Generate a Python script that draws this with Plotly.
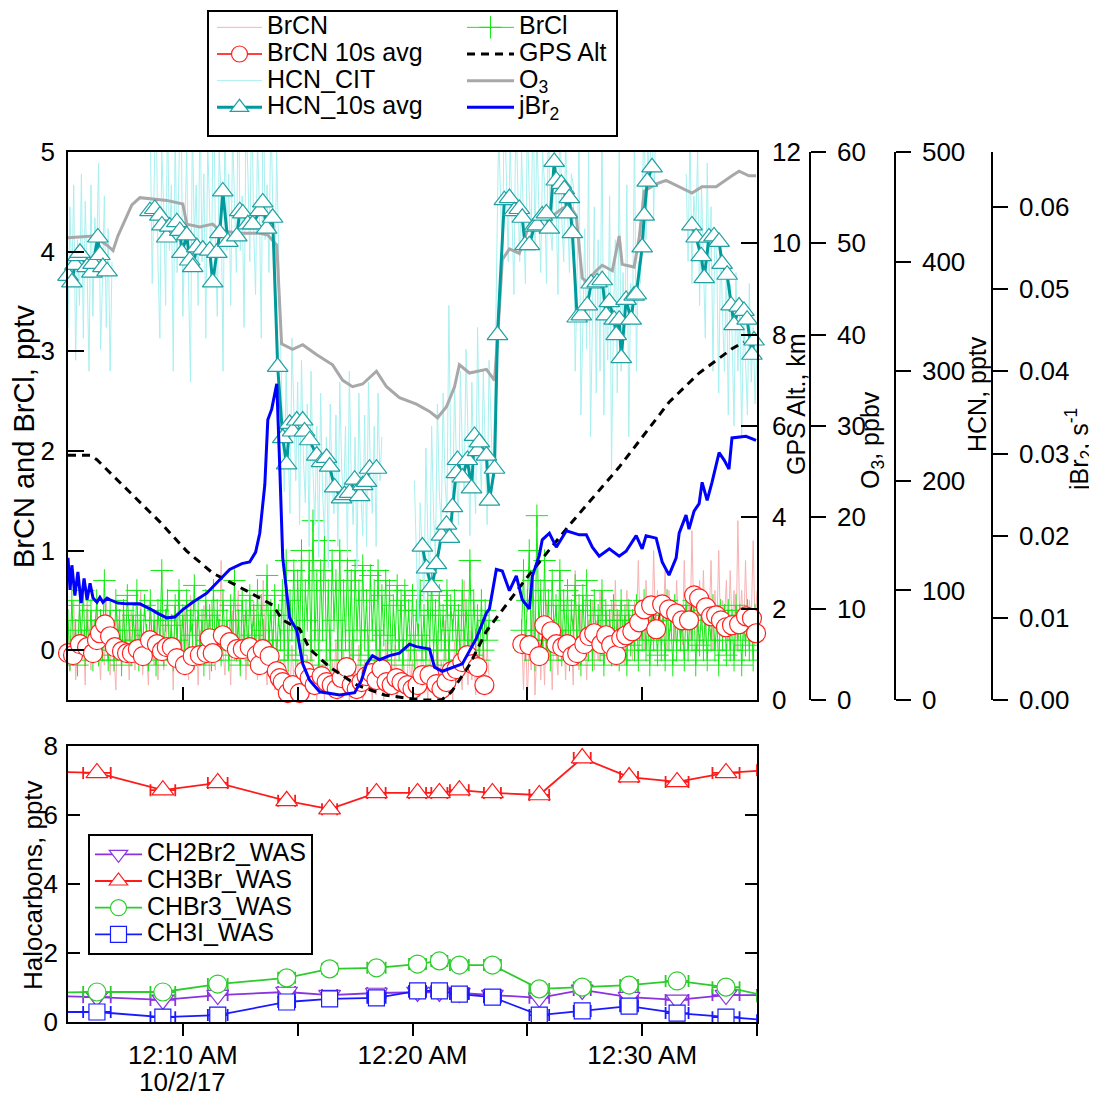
import numpy as np
import plotly.graph_objects as go

W, H = 1097, 1095
FONT = "Liberation Sans, Arial, Helvetica, sans-serif"

# ---------------- data (time in minutes after 00:00, 10/2/17) ----------------
# 5-s sampled high-rate series
sample_times = np.linspace(5.0, 35.0, 361)

hcn_cit = ([340, 450, 380, 470, 310, 420, 360, 480, 330, 455, 390, 300, 470, 350, 440, 410, 490,
            320, 380, 460, 340, 430, 300, 400]
           + [None] * 19
           + [520, 380, 470, 560, 400, 330, 500, 450, 360, 540, 410, 470, 300, 520, 390, 460, 580,
              350, 440, 500, 380, 290, 530, 420,
              470, 360, 560, 400, 480, 330, 510, 440, 380, 590, 420, 350, 500, 460, 300, 540, 410,
              480, 360, 520, 440, 390, 570, 410,
              460, 340, 530, 480, 400, 560, 430, 370, 510, 450, 330, 580, 420, 470, 390, 540, 450,
              360, 500, 410]
           + [320, 250, 190, 300, 230, 170, 330, 260, 200, 290, 160, 310, 220, 180, 270, 140, 300,
              210, 160, 250, 130, 280, 190, 150,
              240, 120, 270, 200, 170, 260, 140, 290, 210, 180, 250, 130, 300, 200, 160, 240, 120,
              280, 190, 150, 260, 140, 290, 210,
              170, 250, 140, 280, 200, 240]
           + [None] * 16
           + [200, 120, 70, 180, 140, 90, 230, 150, 110, 250, 170, 130, 270, 190, 160, 280, 200,
              170, 360, 220, 180, 290, 210, 160,
              300, 230, 190, 320, 240, 150, 290, 210, 170, 340, 230, 190, 300, 220, 160, 310, 250,
              200, 280]
           + [420, 520, 460, 390, 560, 480, 400, 510, 440, 370, 540, 470, 400, 500, 430, 380, 530,
              460, 420, 560, 410, 520, 450, 390,
              500, 470, 380, 540, 430, 410, 520, 460, 370, 550, 440, 400, 510, 450, 390, 480,
              470, 300, 380, 520, 260, 340, 430, 320, 500, 240, 360, 450, 280, 420, 300, 540, 260,
              380, 310, 460, 210, 350, 420, 280,
              500, 300, 390, 330, 470, 240, 380, 350, 520, 300, 400, 380,
              450, 540, 420, 500, 470, 560, 440, 520]
           + [None] * 15
           + [480, 400, 520, 380, 460, 430, 500, 360, 470, 410, 330, 490, 380, 450, 300, 430, 400,
              280, 420, 350, 300, 400, 260, 380,
              330, 250, 390, 300, 360, 240, 350, 310, 260, 380, 290, 340, 270, 330])

brcn = ([0.3, -0.2, 0.1, 0.5, -0.3, 0.0, 0.4, -0.1, 0.2, -0.35, 0.6, 0.0,
         -0.2, 0.3, -0.1, 0.45, 0.0, -0.3, 0.25, -0.15, 0.5, 0.1, -0.25, 0.3,
         0.0, -0.4, 0.35, 0.1, -0.2, 0.5, -0.1, 0.2, -0.3, 0.4, 0.05, -0.2,
         0.3, -0.1, 0.6, -0.25, 0.15, 0.0, -0.35, 0.4, 0.1, -0.15, 0.3, -0.3,
         0.2, 0.5, -0.2, 0.0, 0.35, -0.1, 0.25, -0.4, 0.45, 0.1, -0.2, 0.3,
         -0.1, 0.4, 0.0, -0.3, 0.55, 0.1, -0.2, 0.3, -0.35, 0.2, 0.0, 0.45,
         -0.15, 0.3, -0.3, 0.5, 0.05, -0.2, 0.35, -0.1, 0.9, 0.0, -0.25, 0.3,
         0.1, -0.35, 0.4, -0.1, 0.2, 0.6, -0.2, 0.0, 0.35, -0.3, 0.25, 0.05,
         -0.2, 0.5, 0.1, -0.3, 0.3, -0.1, 0.7, 0.0, -0.35, 0.25, -0.15, 0.2,
         -0.4, 0.1, -0.45, -0.1, -0.5, 0.0, -0.35, -0.2, -0.45, 0.05, -0.3, -0.5,
         -0.1, -0.4, 0.1, -0.3, -0.5, -0.05, -0.45, 0.15, -0.35, -0.2, -0.5, 0.0,
         -0.4, -0.15, -0.5, 0.05, -0.3, -0.45, -0.1, -0.35, 0.1, -0.5, -0.2, -0.4,
         0.0, -0.45, -0.25, -0.5, 0.1, -0.35, -0.15, -0.45, 0.05, -0.3, -0.5, -0.1,
         -0.4, 0.15, -0.3, -0.5, -0.05, -0.45, 0.0, -0.35, -0.2, -0.5, 0.1, -0.3,
         -0.45, -0.1, -0.35, 0.05, -0.5, -0.2, -0.4, 0.0, -0.3, -0.45, 0.1, -0.35,
         -0.1, -0.5, 0.0, -0.3, -0.45, 0.15, -0.35, -0.2, -0.5, 0.05, -0.4, -0.1,
         -0.35, 0.2, -0.45, -0.1, -0.3, 0.3, -0.4, 0.0, -0.25, -0.5, 0.1, -0.3,
         0.4, -0.2, -0.4, 0.7, -0.1, -0.35, 0.2, -0.3, 0.0, -0.45, 0.3, -0.2,
         -0.35, 0.1, -0.3, 0.0, -0.25]
        + [None] * 16
        + [0.2, -0.4, 0.3, -0.5, 0.1, -0.2, 0.4, -0.45, 0.0, 0.3, -0.3, 0.2,
           -0.35, 0.5, -0.1, 0.2, -0.4, 0.3, 0.0, -0.25, 0.45, -0.1, 0.2, -0.3,
           0.35, -0.15, 0.1, -0.35, 0.8, 0.0, -0.2, 0.4, -0.1, 0.25, -0.3, 0.3,
           0.0, 0.5, -0.2, 0.3, -0.1, 0.6, 0.05, -0.15, 0.4, 0.1, -0.05, 0.5,
           0.1, 0.7, -0.1, 0.4, 0.0, 0.3, -0.15, 0.6, 0.1, 0.2, -0.1, 0.5,
           0.2, 0.9, 0.1, 0.5, 0.0, 0.7, 0.2, 0.4, 0.05, 1.0, 0.2, 0.6,
           0.1, 0.5, 0.3, 0.8, 0.0, 0.6, 0.2, 0.45, 0.1, 0.7, 0.25, 0.4,
           0.05, 0.9, 0.2, 0.6, 0.1, 1.2, 0.3, 0.5, 0.0, 0.7, 0.2, 0.8,
           0.1, 0.5, 0.3, 0.9, 0.0, 0.6, 0.2, 1.0, 0.15, 0.5, 0.3, 0.7,
           0.1, 0.8, 0.2, 0.6, 0.0, 1.3, 0.25, 0.6, 0.1, 0.9, 0.2, 0.5,
           0.3, 1.1, 0.2, 0.6])

brcl = ([0.3, -0.1, 0.5, 0.0, 0.2, -0.15, 0.45, 0.1, 0.6, -0.05, 0.3, 0.0,
         0.4, -0.1, 0.2, 0.5, -0.05, 0.3, 0.0, 0.7, 0.1, -0.1, 0.4, 0.2,
         -0.1, 0.5, 0.1, 0.3, -0.15, 0.4, 0.0, 0.55, 0.2, -0.05, 0.35, 0.1,
         0.6, -0.1, 0.3, 0.0, 0.45, 0.15, -0.1, 0.5, 0.05, 0.3, -0.15, 0.4,
         0.1, 0.8, -0.05, 0.3, 0.5, 0.0, 0.25, -0.1, 0.45, 0.1, 0.6, -0.05,
         0.35, 0.0, 0.5, -0.1, 0.3, 0.15, 0.65, -0.05, 0.4, 0.0, 0.3, -0.15,
         0.5, 0.1, 0.35, -0.1, 0.6, 0.0, 0.4, 0.2, -0.05, 0.5, 0.1, 0.3,
         -0.1, 0.45, 0.05, 0.7, 0.0, 0.3, -0.15, 0.5, 0.1, 0.4, -0.05, 0.55,
         0.15, 0.35, -0.1, 0.6, 0.0, 0.45, 0.2, -0.05, 0.75, 0.1, 0.4, 0.0,
         0.55, -0.1, 0.35, 0.1, 0.6, 0.0, 0.9, -0.1, 0.5, 0.2, 0.8, -0.05,
         0.7, 0.1, 1.0, -0.1, 0.6, 0.3, 0.9, 0.0, 1.3, 0.1, 0.7, -0.15,
         0.8, 0.2, 1.1, 0.0, 0.6, -0.1, 0.9, 0.3, 0.7, 0.0, 1.0, -0.1,
         0.6, 0.1, 0.9, 0.0, 0.7, -0.15, 0.8, 0.2, 0.6, -0.05, 0.85, 0.1,
         0.5, -0.1, 0.75, 0.2, 0.6, 0.0, 0.8, -0.1, 0.55, 0.15, 0.7, 0.0,
         0.6, -0.1, 0.45, 0.1, 0.65, 0.0, 0.5, -0.15, 0.6, 0.1, 0.4, 0.0,
         0.55, -0.1, 0.4, 0.15, 0.6, 0.0, 0.35, -0.1, 0.5, 0.1, 0.7, 0.0,
         0.4, -0.15, 0.55, 0.1, 0.35, 0.0, 0.6, -0.1, 0.45, 0.2, 0.5, 0.0,
         0.35, -0.1, 0.6, 0.1, 0.4, 0.0, 0.9, -0.05, 0.5, 0.1, 0.35, -0.1,
         0.5, 0.0, 0.4, 0.1, 0.3]
        + [None] * 16
        + [0.2, 0.8, 0.0, 0.5, 1.0, 0.1, 0.7, -0.1, 1.35, 0.2, 0.6, 0.0,
           0.9, 0.1, 0.5, -0.1, 0.7, 0.2, 0.45, 0.0, 0.8, -0.05, 0.5, 0.1,
           0.6, -0.1, 0.4, 0.2, 0.65, 0.0, 0.45, -0.15, 0.55, 0.1, 0.7, 0.0,
           0.4, -0.1, 0.5, 0.1, 0.35, 0.0, 0.6, -0.15, 0.4, 0.1, 0.3, -0.05,
           0.45, 0.0, 0.3, -0.1, 0.5, 0.1, 0.35, -0.15, 0.4, 0.05, 0.3, 0.0,
           0.45, -0.1, 0.3, 0.1, 0.5, 0.0, 0.35, -0.15, 0.4, 0.1, 0.3, -0.05,
           0.4, 0.0, 0.35, -0.1, 0.5, 0.1, 0.3, -0.15, 0.45, 0.0, 0.35, 0.1,
           0.3, -0.1, 0.45, 0.0, 0.35, 0.1, 0.5, -0.15, 0.3, 0.05, 0.4, 0.0,
           0.35, -0.1, 0.3, 0.1, 0.45, 0.0, 0.3, -0.15, 0.4, 0.1, 0.35, -0.05,
           0.4, 0.0, 0.3, -0.1, 0.45, 0.1, 0.35, -0.15, 0.3, 0.05, 0.4, 0.0,
           0.3, -0.1, 0.35, 0.2])

brcn_avg_t = [5.0, 5.22, 5.52, 5.83, 6.09, 6.26, 6.39, 6.61, 6.83, 7.04, 7.35, 7.57, 7.78, 8.04,
              8.26, 8.57, 8.87, 9.09, 9.30, 9.52, 9.74, 10.09, 10.43, 10.74, 11.04, 11.17, 11.30,
              11.74, 12.04, 12.35, 12.61, 12.91, 13.22, 13.35, 13.48, 13.78, 14.09, 14.22, 14.35,
              14.57, 14.78, 15.09, 15.30, 15.52, 15.74, 16.04, 16.26, 16.48, 16.70, 16.91, 17.13,
              17.35, 17.57, 17.78, 18.00, 18.22, 18.43, 18.65, 18.87, 19.09, 19.30, 19.52, 19.78,
              20.00, 20.22, 20.43, 20.74, 21.04, 21.26, 21.48, 21.70, 21.91, 22.17, 22.39, 22.61,
              22.83, 23.13,
              23.95,
              24.78, 25.09, 25.52, 25.74, 26.04, 26.26, 26.52, 26.74, 26.96, 27.17, 27.48, 27.70,
              27.91, 28.22, 28.43, 28.65, 28.87, 29.09, 29.30, 29.57, 29.87, 30.09, 30.39, 30.61,
              30.87, 31.17, 31.48, 31.74, 32.04, 32.26, 32.48, 32.78, 33.00, 33.22, 33.43, 33.65,
              33.91, 34.22, 34.52, 34.78, 34.96]
brcn_avg = [-0.03, -0.05, 0.06, 0.03, -0.03, 0.10, 0.17, 0.26, 0.14, 0.03, -0.01, -0.03, -0.03, 0.01,
            -0.06, 0.10, 0.06, -0.01, 0.03, 0.03, -0.08, -0.15, -0.06, -0.05, -0.03, 0.12, -0.03,
            0.15, 0.08, 0.01, 0.01, 0.03, -0.05, -0.15, 0.01, -0.06, -0.21, -0.28, -0.32,
            -0.43, -0.35, -0.43, -0.21, -0.28, -0.35, -0.26, -0.32, -0.35, -0.39, -0.28, -0.17,
            -0.35, -0.39, -0.32, -0.26, -0.23, -0.30, -0.19, -0.32, -0.35, -0.28, -0.32, -0.35,
            -0.39, -0.35, -0.25, -0.25, -0.34, -0.39, -0.32, -0.21, -0.19, -0.12, -0.05, -0.14,
            -0.17, -0.35,
            None,
            0.06, 0.05, -0.06, 0.25, 0.19, 0.06, 0.03, 0.06, -0.06, -0.03, 0.06, 0.14,
            0.17, 0.06, 0.15, 0.05, -0.05, 0.12, 0.15, 0.19, 0.28, 0.41, 0.45, 0.21,
            0.46, 0.41, 0.37, 0.30, 0.30, 0.55, 0.52, 0.43, 0.34, 0.35, 0.30, 0.23,
            0.25, 0.26, 0.34, 0.32, 0.17]

hcn_avg_t = [5.0, 5.17, 5.30, 5.43, 5.52, 5.83, 6.04, 6.09, 6.30, 6.39, 6.52, 6.70,
             7.6,
             8.57, 8.78, 9.00, 9.09, 9.30, 9.43, 9.74, 9.87, 9.96, 10.17,
             10.30, 10.43, 10.61, 10.87, 11.17, 11.30, 11.48, 11.61, 11.74, 11.96,
             12.35, 12.48, 12.61, 12.83, 13.04, 13.35, 13.48, 13.65, 13.91, 14.13,
             14.35, 14.52, 14.65, 14.78, 14.96, 15.22, 15.30, 15.52, 15.83, 16.04,
             16.26, 16.39, 16.61, 16.91, 17.04, 17.26, 17.48, 17.70, 17.83, 18.00,
             18.13, 18.43,
             19.4,
             20.43, 20.61, 20.83, 21.04, 21.26, 21.48, 21.61, 21.74, 21.91, 21.96,
             22.17, 22.39, 22.57, 22.70, 22.83, 22.91, 23.22, 23.35, 23.57, 23.70,
             24.00, 24.22, 24.43, 24.65, 24.78, 24.90, 25.09, 25.30, 25.43, 25.65,
             25.83, 25.96, 26.17, 26.26, 26.48, 26.61, 26.74, 26.83, 26.96, 27.17,
             27.35, 27.61, 27.78, 28.04, 28.26, 28.43, 28.57, 28.78, 28.87, 29.00,
             29.09, 29.30, 29.52, 29.65, 29.74, 30.00, 30.09, 30.22, 30.43,
             31.3,
             32.17, 32.35, 32.57, 32.70, 32.91, 33.13, 33.35, 33.48, 33.70, 33.87,
             34.00, 34.22, 34.43, 34.57, 34.78, 34.87]
hcn_avg = [387, 381, 397, 405, 408, 395, 390, 398, 422, 406, 395, 391,
           None,
           446, 448, 442, 433, 422, 432, 436, 428, 408, 424,
           401, 395, 413, 411, 410, 381, 408, 426, 464, 418,
           423, 446, 444, 434, 434, 446, 454, 430, 440, 304,
           239, 215, 252, 245, 255, 255, 245, 237, 223, 217,
           221, 213, 194, 184, 187, 189, 201, 186, 196, 199,
           211, 211,
           None,
           140, 120, 103, 124, 150, 160, 148, 176, 207, 219,
           203, 219, 193, 241, 227, 235, 223, 182, 211, 333,
           456, 458, 446, 448, 440, 415, 415, 432, 433, 442,
           444, 430, 491, 474, 471, 466, 444, 458, 426, 349,
           351, 360, 380, 381, 383, 351, 363, 347, 333, 347,
           312, 365, 347, 369, 370, 413, 442, 473, 486,
           None,
           433, 422, 405, 385, 422, 423, 418, 398, 388, 360,
           342, 359, 355, 347, 315, 328]

gps_t = [5.0, 5.96, 6.26, 7.57, 9.0, 10.17, 11.30, 12.78, 13.91, 14.35, 15.09, 15.52, 16.39, 17.57,
         18.78, 20.30, 21.26, 21.70, 22.48, 23.22, 24.09, 25.09, 26.83, 29.0, 31.17, 32.48, 33.91,
         34.43]
gps_alt = [5.36, 5.36, 5.26, 4.62, 3.90, 3.26, 2.78, 2.39, 2.08, 1.75, 1.55, 1.12, 0.72, 0.33,
           0.11, 0.0, 0.0, 0.18, 0.77, 1.51, 2.08, 2.75, 3.83, 5.10, 6.52, 7.16, 7.69, 7.84]

o3_t = [5.0, 6.09, 6.70, 6.96, 7.17, 7.57, 7.78, 8.13, 9.30, 10.0,
        10.17, 10.74, 11.30, 11.61, 12.48, 13.35, 13.70, 14.09, 14.22, 14.30,
        14.78, 15.22, 15.83, 16.52, 16.96, 17.39, 17.83, 18.43, 18.87, 19.43,
        20.17, 20.74, 21.09, 21.48, 21.83, 22.04, 22.48, 23.22, 23.57, 23.70,
        23.91, 24.22, 24.65, 25.09, 25.52, 26.09, 26.52, 26.83, 27.13, 27.39,
        27.57, 28.0, 28.26, 28.70, 29.0, 29.13, 29.65, 29.87, 30.09, 30.61,
        31.04, 31.61, 32.17, 32.61, 33.22, 33.91, 34.22, 34.65, 34.96]
o3 = [50.6, 50.8, 49.8, 49.2, 50.8, 53.0, 54.2, 55.0, 54.7, 54.3,
      52.1, 51.8, 52.1, 51.4, 51.1, 51.1, 50.9, 49.8, 43.8, 39.0,
      38.4, 38.9, 37.8, 36.7, 35.0, 34.3, 34.6, 36.0, 34.3, 33.1,
      32.4, 31.6, 30.9, 32.1, 34.3, 36.7, 35.8, 36.2, 35.0, 39.4,
      48.2, 49.4, 48.9, 52.1, 52.8, 53.0, 53.8, 54.2, 53.0, 46.2,
      45.8, 47.0, 47.6, 47.0, 50.8, 47.7, 47.4, 50.6, 55.7, 56.5,
      56.9, 56.2, 55.5, 56.2, 56.2, 57.4, 57.9, 57.4, 57.4]

jbr2_t = [5.0, 5.09, 5.17, 5.30, 5.43, 5.57, 5.70, 5.83, 5.96, 6.09,
          6.26, 6.39, 6.52, 6.70, 6.83, 7.17, 7.57, 8.13, 8.57, 8.87,
          9.30, 9.65, 10.0, 10.43, 11.04, 11.61, 12.04, 12.57, 12.91, 13.17,
          13.35, 13.57, 13.70, 13.87, 14.0, 14.09, 14.22, 14.35, 14.65, 14.96,
          15.22, 15.52, 15.96, 16.83, 17.48, 17.78, 18.0, 18.26, 18.57, 19.0,
          19.43, 19.87, 20.17, 20.74, 20.96, 21.30, 22.17, 22.78, 23.22, 23.35,
          23.65, 23.91, 24.22, 24.52, 24.78, 25.09, 25.22, 25.52, 25.65, 25.96,
          26.26, 26.70, 27.26, 27.57, 27.83, 28.13, 28.57, 29.0, 29.30, 29.74,
          30.0, 30.17, 30.61, 30.87, 31.17, 31.48, 31.61, 31.91, 32.04, 32.26,
          32.48, 32.61, 32.83, 33.04, 33.35, 33.57, 33.78, 33.91, 34.52, 34.96]
jbr2 = [0.0173, 0.0134, 0.0164, 0.0127, 0.0156, 0.0118, 0.0148, 0.0122, 0.0142, 0.0124,
        0.0119, 0.0125, 0.0119, 0.0124, 0.0122, 0.0118, 0.0117, 0.0117, 0.0111, 0.0106,
        0.0100, 0.0101, 0.0110, 0.0119, 0.0130, 0.0146, 0.0159, 0.0166, 0.0168, 0.0180,
        0.0203, 0.0262, 0.0341, 0.0354, 0.0371, 0.0385, 0.0284, 0.0173, 0.0100, 0.0085,
        0.0044, 0.0024, 0.0010, 0.0006, 0.0009, 0.0024, 0.0044, 0.0054, 0.0049, 0.0054,
        0.0057, 0.0068, 0.0065, 0.0062, 0.0040, 0.0035, 0.0044, 0.0075, 0.0106, 0.0111,
        0.0159, 0.0157, 0.0133, 0.0151, 0.0122, 0.0111, 0.0151, 0.0176, 0.0195, 0.0203,
        0.0186, 0.0206, 0.0201, 0.0201, 0.0186, 0.0175, 0.0184, 0.0175, 0.0181, 0.0200,
        0.0184, 0.0200, 0.0197, 0.0168, 0.0152, 0.0173, 0.0203, 0.0225, 0.0208, 0.0230,
        0.0239, 0.0265, 0.0243, 0.0265, 0.0301, 0.0292, 0.0281, 0.0319, 0.0321, 0.0316]

# Whole-air-sample halocarbons (sample mid time, half sampling interval in minutes)
was_t = [4.4, 6.26, 9.13, 11.52, 14.52, 16.39, 18.43, 20.22, 21.17, 22.04, 23.48, 25.52, 27.39,
         29.43, 31.52, 33.65, 35.5]
was_dt = [0.5, 0.6, 0.54, 0.43, 0.37, 0.33, 0.4, 0.37, 0.35, 0.41, 0.37, 0.43, 0.37, 0.39, 0.5,
          0.59, 0.5]
ch2br2 = [0.75, 0.72, 0.64, 0.78, 0.87, 0.78, 0.84, 0.87, 0.87, 0.84, 0.78, 0.70, 0.93, 0.72, 0.64,
          0.78, 0.78]
ch3br = [7.25, 7.22, 6.72, 6.93, 6.41, 6.17, 6.64, 6.64, 6.64, 6.72, 6.64, 6.58, 7.65, 7.10, 6.96,
         7.22, 7.3]
chbr3 = [0.85, 0.87, 0.87, 1.10, 1.28, 1.54, 1.57, 1.68, 1.77, 1.65, 1.65, 0.96, 1.01, 1.07, 1.19,
         1.01, 0.74]
ch3i = [0.29, 0.29, 0.14, 0.20, 0.58, 0.67, 0.70, 0.90, 0.90, 0.81, 0.72, 0.20, 0.32, 0.46, 0.26,
        0.14, 0.05]

x_tick_vals = [10, 15, 20, 25, 30, 35]
x_tick_text = ["12:10 AM", "", "12:20 AM", "", "12:30 AM", ""]
date_label = "10/2/17"
date_label_time = 10
left_ticks = [0, 1, 2, 3, 4, 5]
gps_ticks = [0, 2, 4, 6, 8, 10, 12]
o3_ticks = [0, 10, 20, 30, 40, 50, 60]
hcn_ticks = [0, 100, 200, 300, 400, 500]
jbr2_ticks = [0.0, 0.01, 0.02, 0.03, 0.04, 0.05, 0.06]
halo_ticks = [0, 2, 4, 6, 8]

# ---------------- helpers for layout positions (page pixels -> paper) ----------------
PAGE_OFF = 8  # the page body margin that shifts the figure


def px_x(p):
    return (p - PAGE_OFF) / W


def px_y(p):
    return 1 - (p - PAGE_OFF) / H


def lg(text, size=25):
    return '<span style="font-size:%dpx">%s</span>' % (size, text)


TICKF = dict(family=FONT, size=26, color="black")
LINEW = 1.5

fig = go.Figure()

# ---- top panel, left axis ----
fig.add_trace(go.Scatter(x=sample_times, y=brcn, mode="lines", name=lg("BrCN"),
                         line=dict(color="#f8b2b2", width=1), legend="legend", legendrank=1,
                         xaxis="x", yaxis="y"))
fig.add_trace(go.Scatter(x=sample_times, y=brcl, mode="lines+markers", name=lg("BrCl"),
                         line=dict(color="#12ea12", width=1),
                         marker=dict(symbol="cross-thin", size=16,
                                     line=dict(color="#12ea12", width=1)),
                         legend="legend2", legendrank=1, xaxis="x", yaxis="y"))
fig.add_trace(go.Scatter(x=brcn_avg_t, y=brcn_avg, mode="lines+markers", name=lg("BrCN 10s avg"),
                         line=dict(color="#ff0000", width=1.5),
                         marker=dict(symbol="circle", size=19, color="white",
                                     line=dict(color="#ff2020", width=1.2)),
                         cliponaxis=False, legend="legend", legendrank=2, xaxis="x", yaxis="y"))
# ---- HCN 1 Hz (visible HCN axis) ----
fig.add_trace(go.Scatter(x=sample_times, y=hcn_cit, mode="lines", name=lg("HCN_CIT"),
                         line=dict(color="#a8f0f0", width=1), legend="legend", legendrank=3,
                         xaxis="x", yaxis="y2"))
# ---- O3 ----
fig.add_trace(go.Scatter(x=o3_t, y=o3, mode="lines", name=lg("O<sub>3</sub>"),
                         line=dict(color="#a8a8a8", width=3), legend="legend2", legendrank=3,
                         xaxis="x", yaxis="y3"))
# ---- HCN 10 s average (same HCN scale, drawn above O3) ----
fig.add_trace(go.Scatter(x=hcn_avg_t, y=hcn_avg, mode="lines+markers", name=lg("HCN_10s avg"),
                         line=dict(color="#009a9c", width=3),
                         marker=dict(symbol="triangle-up", size=18, color="white",
                                     line=dict(color="#22a0a2", width=1.2)),
                         cliponaxis=False, legend="legend", legendrank=4, xaxis="x", yaxis="y4"))
# ---- GPS altitude ----
fig.add_trace(go.Scatter(x=gps_t, y=gps_alt, mode="lines", name=lg("GPS Alt"),
                         line=dict(color="black", width=3, dash="8px,6px"),
                         legend="legend2", legendrank=2, xaxis="x", yaxis="y5"))
# ---- jBr2 ----
fig.add_trace(go.Scatter(x=jbr2_t, y=jbr2, mode="lines", name=lg("jBr<sub>2</sub>"),
                         line=dict(color="#0000ff", width=3), legend="legend2", legendrank=4,
                         xaxis="x", yaxis="y6"))

# ---- bottom panel halocarbons ----
halo = [
    ("CH2Br2_WAS", ch2br2, "#8a33e0", "triangle-down", 19),
    ("CH3Br_WAS", ch3br, "#ff1a1a", "triangle-up", 19),
    ("CHBr3_WAS", chbr3, "#2ccc2c", "circle", 18),
    ("CH3I_WAS", ch3i, "#1a1aff", "square", 16),
]
for rank, (nm, vals, col, sym, sz) in enumerate(halo):
    fig.add_trace(go.Scatter(
        x=was_t, y=vals, mode="lines+markers", name=lg(nm),
        line=dict(color=col, width=1.8),
        marker=dict(symbol=sym, size=sz, color="white", line=dict(color=col, width=1.2)),
        error_x=dict(type="data", array=was_dt, color=col, thickness=1.8, width=6),
        legend="legend3", legendrank=rank + 1, xaxis="x2", yaxis="y7"))

xdom = [px_x(68), px_x(757)]
top_dom = [px_y(700), px_y(152)]
bot_dom = [px_y(1022), px_y(746)]

common = dict(showgrid=False, zeroline=False, linecolor="black", linewidth=LINEW,
              tickcolor="black", tickwidth=LINEW, tickfont=TICKF)

legend_common = dict(bgcolor="rgba(0,0,0,0)", borderwidth=0, xanchor="left", yanchor="top",
                     font=dict(family=FONT, size=18.2, color="black"), traceorder="normal",
                     tracegroupgap=0, itemclick=False, itemdoubleclick=False)

fig.update_layout(
    width=W, height=H, margin=dict(l=0, r=0, t=0, b=0, pad=0, autoexpand=False),
    paper_bgcolor="white", plot_bgcolor="white", showlegend=True,
    font=dict(family=FONT, color="black"),
    xaxis=dict(domain=xdom, range=[5, 35], anchor="y", tickvals=x_tick_vals,
               showticklabels=False, ticks="inside", ticklen=13, showline=True, mirror=True,
               **common),
    yaxis=dict(domain=top_dom, range=[-0.5, 5], anchor="x", tickvals=left_ticks,
               ticks="inside", ticklen=16, showline=True, ticklabelstandoff=6, **common),
    yaxis2=dict(overlaying="y", anchor="free", position=px_x(895), side="right",
                range=[0, 500], tickvals=hcn_ticks, ticks="outside", ticklen=15,
                showline=True, ticklabelstandoff=6, **common),
    yaxis3=dict(overlaying="y", anchor="free", position=px_x(810), side="right",
                range=[0, 60], tickvals=o3_ticks, ticks="outside", ticklen=15,
                showline=True, ticklabelstandoff=6, **common),
    yaxis4=dict(overlaying="y", anchor="x", range=[0, 500], visible=False,
                showgrid=False, zeroline=False),
    yaxis5=dict(overlaying="y", anchor="x", side="right", range=[0, 12], tickvals=gps_ticks,
                ticks="inside", ticklen=16, showline=True, ticklabelstandoff=8, **common),
    yaxis6=dict(overlaying="y", anchor="free", position=px_x(992), side="right",
                range=[0, 0.0667], tickvals=jbr2_ticks, tickformat=".2f", ticks="outside",
                ticklen=15, showline=True, ticklabelstandoff=6, **common),
    xaxis2=dict(domain=xdom, range=[5, 35], anchor="y7", tickvals=x_tick_vals,
                ticktext=x_tick_text, ticks="outside", ticklen=12, showline=True, mirror=True,
                ticklabelstandoff=-3, **common),
    yaxis7=dict(domain=bot_dom, range=[0, 8], anchor="x2", tickvals=halo_ticks,
                ticks="inside", ticklen=12, showline=True, mirror="ticks",
                ticklabelstandoff=3, **common),
    legend=dict(x=px_x(212), y=px_y(9), itemwidth=45, **legend_common),
    legend2=dict(x=px_x(462), y=px_y(9), itemwidth=47, **legend_common),
    legend3=dict(x=px_x(88), y=px_y(834), itemwidth=47,
                 **{**legend_common, "bgcolor": "white", "borderwidth": 2,
                    "bordercolor": "black"}),
)

# top legend frame
fig.add_shape(type="rect", xref="paper", yref="paper", x0=px_x(208), x1=px_x(617),
              y0=px_y(136), y1=px_y(11), line=dict(color="black", width=2),
              fillcolor="rgba(0,0,0,0)")

# date line under the first time label
fig.add_annotation(text=date_label, xref="x2", yref="paper", x=date_label_time, y=px_y(1082),
                   xanchor="center", yanchor="middle", showarrow=False,
                   font=dict(family=FONT, size=26, color="black"))

# axis titles as rotated text
titles = [
    ("BrCN and BrCl, pptv", 24, 437, 29),
    ("GPS Alt., km", 796, 404, 25),
    ("O<sub>3</sub>, ppbv", 872, 440, 25),
    ("HCN, pptv", 977, 394, 25),
    ("jBr<sub>2</sub>, s<sup>-1</sup>", 1079, 450, 25),
    ("Halocarbons, pptv", 33, 885, 26),
]
for txt, xp, yp, fs in titles:
    fig.add_annotation(text=txt, xref="paper", yref="paper", x=px_x(xp), y=px_y(yp),
                       xanchor="center", yanchor="middle", textangle=-90, showarrow=False,
                       font=dict(family=FONT, size=fs, color="black"))

fig.write_html("out.html")
